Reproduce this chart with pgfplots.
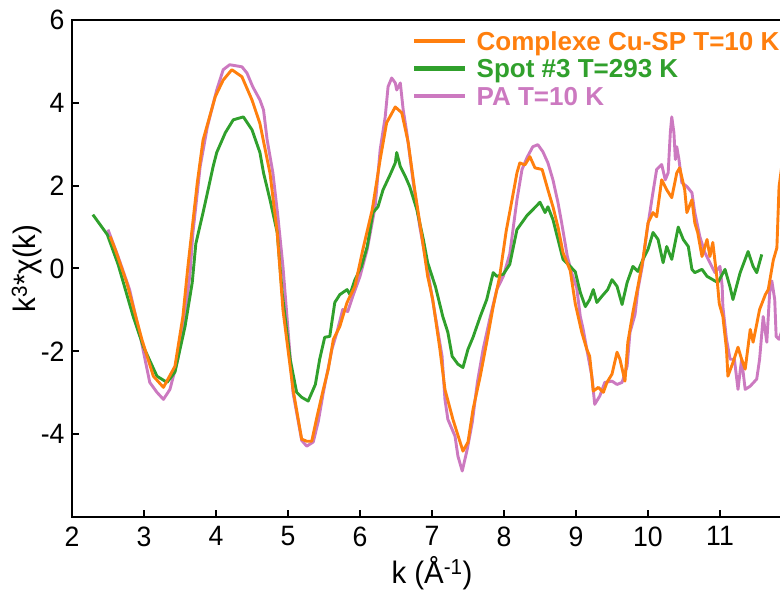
\documentclass[border=0pt]{standalone}
\usepackage{fontspec}
\setmainfont{Liberation Sans}
\newfontfamily\tickfont{Liberation Sans}[FakeStretch=0.95]
\newfontfamily\legfont{Liberation Sans}
\usepackage{pgfplots}
\pgfplotsset{compat=1.18}
\definecolor{cuorange}{RGB}{255,127,14}
\definecolor{spotgreen}{RGB}{48,160,44}
\definecolor{papink}{RGB}{204,121,192}
\begin{document}
\begin{tikzpicture}
\begin{axis}[
  at={(0pt,0pt)}, anchor=south west,
  scale only axis, width=720pt, height=497pt,
  xmin=2, xmax=12, ymin=-6, ymax=6,
  xtick={2,3,4,5,6,7,8,9,10,11},
  xticklabels={2,3,4,5,6,7,8,9,10,11},
  ytick={-4,-2,0,2,4,6},
  yticklabels={-4,-2,0,2,4,6},
  xtick pos=bottom, ytick pos=left,
  tick align=inside,
  major tick length=7pt,
  tick style={line width=2pt, black},
  axis line style={line width=2.5pt, black},
  ticklabel style={font=\tickfont\fontsize{28}{28}\selectfont},
  xticklabel style={yshift=-6pt},
  yticklabel style={xshift=-4pt},
  xlabel={k (Å\textsuperscript{-1})},
  ylabel={k\textsuperscript{3}*χ(k)},
  label style={font=\tickfont\fontsize{31}{31}\selectfont},
  xlabel style={at={(axis description cs:0.5,0)}, anchor=center, yshift=-56pt},
  ylabel style={at={(axis description cs:-0.0625,0.5)}, anchor=center, rotate=0},
  legend style={draw=none, fill=none, at={(rel axis cs:0.4722,0.978)}, anchor=north west,
    inner sep=0pt, row sep=3pt, column sep=9pt,
    font=\legfont\bfseries\fontsize{26}{26}\selectfont,
    nodes={inner sep=0pt, text height=19pt, text depth=5.5pt},
    cells={anchor=west}},
  legend image code/.code={\draw[#1, line width=4.5pt] (0pt,2.5pt) -- (51pt,2.5pt);},
  every axis plot/.append style={line width=2.9pt, line join=round},
]
\addlegendimage{cuorange}
\addlegendentry{\textcolor{cuorange}{Complexe Cu-SP T=10 K}}
\addlegendimage{spotgreen}
\addlegendentry{\textcolor{spotgreen}{Spot \#3 T=293 K}}
\addlegendimage{papink}
\addlegendentry{\textcolor{papink}{PA T=10 K}}

% PA T=10 K
\addplot[papink, forget plot] coordinates {
(2.50,0.94) (2.64,0.29) (2.80,-0.51) (2.95,-1.65) (3.08,-2.75) (3.18,-2.99) (3.27,-3.16)
(3.36,-2.92) (3.47,-2.19) (3.57,-1.16) (3.64,-0.10) (3.68,0.87) (3.78,2.46) (3.88,3.42)
(4.01,4.31) (4.10,4.80) (4.19,4.92) (4.36,4.87) (4.43,4.72) (4.51,4.39) (4.61,4.07)
(4.66,3.83) (4.71,3.11) (4.79,2.31) (4.86,1.25) (4.93,0.05) (5.07,-3.00) (5.19,-4.15)
(5.26,-4.29) (5.35,-4.19) (5.42,-3.70) (5.49,-3.00) (5.61,-1.95) (5.68,-1.54) (5.76,-0.99)
(5.83,-1.04) (5.90,-0.67) (6.00,-0.19) (6.10,0.46) (6.21,1.49) (6.28,2.87) (6.35,3.66)
(6.39,4.39) (6.44,4.60) (6.49,4.48) (6.51,4.31) (6.56,4.48) (6.60,3.83) (6.65,3.28)
(6.74,2.07) (6.83,1.01) (6.93,0.05) (7.00,-0.67) (7.14,-2.12) (7.18,-3.16) (7.22,-3.64)
(7.32,-4.05) (7.36,-4.53) (7.42,-4.89) (7.49,-4.36) (7.56,-3.71) (7.63,-2.75) (7.71,-1.95)
(7.81,-1.16) (7.90,-0.51) (7.99,-0.19) (8.08,0.35) (8.18,1.66) (8.25,2.39) (8.32,2.68)
(8.40,2.94) (8.47,2.99) (8.54,2.82) (8.61,2.55) (8.68,2.14) (8.75,1.59) (8.80,1.11)
(8.88,0.29) (8.94,-0.10) (9.01,-0.47) (9.06,-1.16) (9.10,-1.47) (9.15,-1.95) (9.22,-2.60)
(9.26,-3.28) (9.33,-3.08) (9.40,-2.75) (9.50,-2.72) (9.57,-2.80) (9.64,-2.75) (9.71,-2.36)
(9.75,-1.54) (9.82,-1.11) (9.86,-0.51) (9.92,0.05) (9.99,0.94) (10.06,1.74) (10.12,2.39)
(10.19,2.51) (10.24,2.14) (10.28,2.31) (10.31,3.28) (10.33,3.66) (10.36,3.28) (10.38,2.63)
(10.40,2.94) (10.43,2.63) (10.47,2.07) (10.54,1.98) (10.61,1.83) (10.65,1.35) (10.72,0.77)
(10.79,0.38) (10.86,0.14) (10.93,-0.10) (11.00,0.05) (11.03,-0.43) (11.04,-0.92) (11.09,-1.71)
(11.14,-2.19) (11.20,-2.19) (11.25,-2.92) (11.30,-2.19) (11.35,-2.92) (11.42,-2.84) (11.51,-2.67)
(11.55,-2.19) (11.60,-1.16) (11.65,-1.78) (11.69,-0.58) (11.72,-0.30) (11.76,-0.75) (11.78,-1.64)
(11.82,-1.71) (11.86,-1.50) (11.90,-1.20)
};

% Spot #3 T=293 K
\addplot[spotgreen, forget plot] coordinates {
(2.29,1.30) (2.49,0.82) (2.64,0.10) (2.85,-1.16) (2.99,-1.88) (3.18,-2.60) (3.32,-2.75)
(3.43,-2.50) (3.57,-1.40) (3.67,-0.34) (3.72,0.60) (3.82,1.35) (3.89,1.90) (3.96,2.46)
(4.01,2.80) (4.13,3.28) (4.24,3.59) (4.38,3.66) (4.50,3.35) (4.61,2.80) (4.66,2.31)
(4.75,1.66) (4.85,0.87) (4.92,-0.60) (5.03,-2.19) (5.12,-2.99) (5.19,-3.11) (5.28,-3.20)
(5.38,-2.80) (5.44,-2.19) (5.51,-1.66) (5.58,-1.64) (5.65,-0.82) (5.72,-0.63) (5.82,-0.51)
(5.86,-0.63) (5.93,-0.27) (6.02,0.05) (6.10,0.53) (6.18,1.35) (6.25,1.49) (6.32,1.90)
(6.42,2.27) (6.49,2.55) (6.51,2.80) (6.56,2.46) (6.63,2.22) (6.69,1.98) (6.79,1.42)
(6.88,0.70) (6.94,0.14) (7.05,-0.45) (7.15,-1.16) (7.22,-1.54) (7.28,-2.12) (7.36,-2.31)
(7.43,-2.39) (7.50,-1.95) (7.57,-1.66) (7.67,-1.16) (7.76,-0.75) (7.85,-0.10) (7.90,-0.19)
(7.99,-0.14) (8.08,0.10) (8.18,0.94) (8.32,1.28) (8.40,1.42) (8.50,1.60) (8.57,1.35)
(8.61,1.49) (8.68,1.18) (8.75,0.70) (8.82,0.22) (8.92,0.05) (8.99,-0.08) (9.06,-0.58)
(9.13,-0.92) (9.19,-0.75) (9.24,-0.51) (9.29,-0.82) (9.36,-0.67) (9.44,-0.51) (9.50,-0.27)
(9.57,-0.43) (9.64,-0.87) (9.71,-0.34) (9.79,0.05) (9.86,-0.07) (9.93,0.22) (10.00,0.46)
(10.07,0.87) (10.14,0.70) (10.21,0.14) (10.26,0.53) (10.33,0.22) (10.42,1.00) (10.49,0.70)
(10.56,0.53) (10.61,-0.02) (10.65,-0.10) (10.75,-0.02) (10.82,-0.19) (10.90,-0.27) (10.97,-0.34)
(11.07,-0.02) (11.14,-0.45) (11.18,-0.75) (11.28,-0.10) (11.39,0.41) (11.46,0.05) (11.51,-0.10)
(11.58,0.34)
};

% Complexe Cu-SP T=10 K
\addplot[cuorange, forget plot] coordinates {
(2.53,0.77) (2.60,0.46) (2.76,-0.34) (2.97,-1.71) (3.13,-2.60) (3.27,-2.87) (3.43,-2.36)
(3.54,-1.16) (3.61,0.05) (3.74,2.07) (3.82,3.10) (3.99,4.15) (4.10,4.55) (4.22,4.80)
(4.36,4.63) (4.50,4.07) (4.61,3.50) (4.75,2.30) (4.85,0.87) (4.93,-1.00) (5.07,-2.92)
(5.19,-4.12) (5.26,-4.17) (5.33,-4.17) (5.40,-3.60) (5.49,-2.92) (5.56,-2.43) (5.63,-1.71)
(5.72,-1.40) (5.82,-0.82) (5.93,-0.43) (6.04,0.46) (6.17,1.42) (6.28,2.63) (6.37,3.52)
(6.49,3.90) (6.58,3.76) (6.67,3.04) (6.76,1.90) (6.86,0.77) (6.94,-0.19) (7.01,-0.75)
(7.11,-1.95) (7.18,-2.92) (7.29,-3.64) (7.39,-4.19) (7.43,-4.41) (7.50,-4.19) (7.57,-3.40)
(7.67,-2.60) (7.76,-1.78) (7.85,-0.92) (7.94,-0.19) (8.03,0.90) (8.10,1.55) (8.18,2.31)
(8.22,2.55) (8.29,2.50) (8.36,2.70) (8.43,2.43) (8.53,2.39) (8.61,1.90) (8.68,1.49)
(8.75,1.00) (8.82,0.38) (8.92,-0.05) (8.99,-0.85) (9.08,-1.54) (9.15,-1.95) (9.19,-2.12)
(9.24,-2.96) (9.31,-2.87) (9.38,-2.99) (9.43,-2.75) (9.50,-2.55) (9.57,-2.02) (9.61,-2.19)
(9.68,-2.72) (9.72,-1.78) (9.79,-1.06) (9.86,-0.43) (9.93,0.22) (10.00,1.10) (10.07,1.35)
(10.12,1.25) (10.19,2.14) (10.26,1.90) (10.33,1.71) (10.40,2.31) (10.44,2.43) (10.51,1.90)
(10.54,1.35) (10.61,1.66) (10.65,1.10) (10.69,0.87) (10.75,0.29) (10.82,0.70) (10.86,0.29)
(10.90,0.63) (10.96,-0.27) (10.99,-0.85) (11.04,-1.16) (11.09,-1.95) (11.11,-2.60) (11.18,-2.27)
(11.25,-1.90) (11.30,-2.19) (11.35,-2.43) (11.42,-1.47) (11.46,-1.78) (11.55,-0.99) (11.63,-0.63)
(11.67,-0.51) (11.74,0.20) (11.79,0.50) (11.82,1.97) (11.86,2.50) (11.92,2.80)
};
\end{axis}
\pgfresetboundingbox
\path[use as bounding box] (-72pt,-75pt) rectangle (708pt,517pt);
\end{tikzpicture}
\end{document}
